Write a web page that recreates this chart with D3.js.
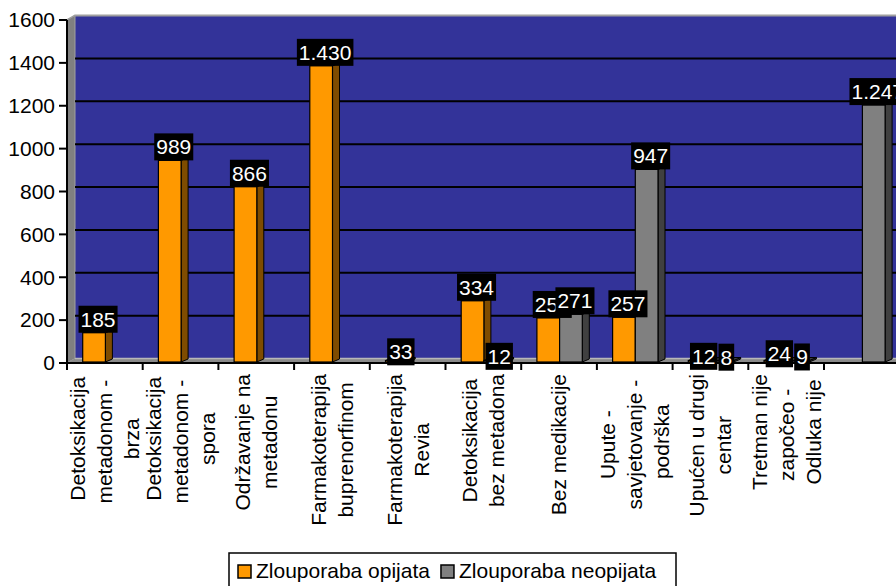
<!DOCTYPE html>
<html>
<head>
<meta charset="utf-8">
<script src="https://cdn.jsdelivr.net/npm/d3@7"></script>
<style>
  html, body { margin: 0; padding: 0; background: #fff; }
  svg { display: block; font-family: "Liberation Sans", Arial, sans-serif; }
</style>
</head>
<body>
<svg id="chart" width="896" height="586"></svg>
<script>
const categories = [
  "Detoksikacija metadonom - brza",
  "Detoksikacija metadonom - spora",
  "Održavanje na metadonu",
  "Farmakoterapija buprenorfinom",
  "Farmakoterapija Revia",
  "Detoksikacija bez metadona",
  "Bez medikacije",
  "Upute - savjetovanje - podrška",
  "Upućen u drugi centar",
  "Tretman nije započeo - Odluka nije",
  ""
];
const labelLines = [
  ["Detoksikacija", "metadonom - ", "brza"],
  ["Detoksikacija", "metadonom - ", "spora"],
  ["Održavanje na", "metadonu"],
  ["Farmakoterapija", "buprenorfinom"],
  ["Farmakoterapija", "Revia"],
  ["Detoksikacija", "bez metadona"],
  ["Bez medikacije"],
  ["Upute - ", "savjetovanje - ", "podrška"],
  ["Upućen u drugi", "centar"],
  ["Tretman nije", "započeo - ", "Odluka nije"],
  []
];
const seriesNames = ["Zlouporaba opijata", "Zlouporaba neopijata"];
const opijata   = [185, 989, 866, 1430, 33, 334, 254, 257, 12, 24, null];
const neopijata = [null, null, null, null, null, 12, 271, 947, 8, 9, 1247];
const yTicks = [0, 200, 400, 600, 800, 1000, 1200, 1400, 1600];

const colors = {
  opijata: { front: "#FF9900", side: "#7F4C00" },
  neopijata: { front: "#808080", side: "#404040" }
};

const svg = d3.select("#chart");
const W = 896, H = 586;
svg.append("rect").attr("width", W).attr("height", H).attr("fill", "#fff");

const fmt = d3.formatLocale({ decimal: ",", thousands: ".", grouping: [3], currency: ["", ""] }).format(",");

const axisX = 67, baseY = 363, topY = 20;
const depthX = 8, depthY = 4.5;
const y = d3.scaleLinear().domain([0, 1600]).range([baseY, topY]);
const yBar = d3.scaleLinear().domain([0, 1600]).range([baseY + 9.4, topY + 9.4]);
const x = d3.scaleBand().domain(d3.range(categories.length)).range([axisX, axisX + 75.7 * categories.length]);
const xs = d3.scaleBand().domain(["opijata", "neopijata"]).range([15.7, 15.7 + 45.4]);

// back wall
svg.append("rect")
  .attr("x", axisX + depthX).attr("y", topY - depthY)
  .attr("width", W - axisX - depthX).attr("height", baseY - topY)
  .attr("fill", "#333399");
// top edge
svg.append("path")
  .attr("d", `M${axisX},${topY} L${axisX + depthX},${topY - depthY} L${W},${topY - depthY}`)
  .attr("fill", "none").attr("stroke", "#a0a0a0").attr("stroke-width", 2);
// left wall
svg.append("path")
  .attr("d", `M${axisX},${baseY} L${axisX + depthX},${baseY - depthY} L${axisX + depthX},${topY - depthY} L${axisX},${topY} Z`)
  .attr("fill", "#808080").attr("stroke", "#a0a0a0").attr("stroke-width", 1);

// gridlines on back wall
svg.append("g").selectAll("line")
  .data(yTicks.filter(v => v > 0 && v < 1600))
  .join("line")
  .attr("x1", axisX + depthX).attr("x2", W)
  .attr("y1", d => y(d) - depthY).attr("y2", d => y(d) - depthY)
  .attr("stroke", "#000").attr("stroke-width", 2);

// floor
svg.append("path")
  .attr("d", `M${axisX},${baseY} L${axisX + depthX},${baseY - depthY} L${W},${baseY - depthY} L${W},${baseY} Z`)
  .attr("fill", "#8a8a8a");
svg.append("line")
  .attr("x1", axisX + depthX).attr("x2", W)
  .attr("y1", baseY - depthY).attr("y2", baseY - depthY)
  .attr("stroke", "#b8b8b8").attr("stroke-width", 1.5);

// bars
const bw = xs.bandwidth();
const bdx = 7, bdy = 3;
const barBottom = baseY - 1;
function drawBar(g, x0, v, c) {
  const top = Math.min(yBar(v), barBottom - 1.5);
  g.append("path")
    .attr("d", `M${x0 + bw},${top} L${x0 + bw + bdx},${top - bdy} L${x0 + bw + bdx},${barBottom - bdy} L${x0 + bw},${barBottom} Z`)
    .attr("fill", c.side).attr("stroke", "#000").attr("stroke-width", 1);
  g.append("path")
    .attr("d", `M${x0},${top} L${x0 + bdx},${top - bdy} L${x0 + bw + bdx},${top - bdy} L${x0 + bw},${top} Z`)
    .attr("fill", c.side).attr("stroke", "#000").attr("stroke-width", 1);
  g.append("rect")
    .attr("x", x0).attr("y", top).attr("width", bw).attr("height", barBottom - top)
    .attr("fill", c.front).attr("stroke", "#000").attr("stroke-width", 1.2);
}
const barsG = svg.append("g");
categories.forEach((cat, i) => {
  if (opijata[i] != null) drawBar(barsG, x(i) + xs("opijata"), opijata[i], colors.opijata);
  if (neopijata[i] != null) drawBar(barsG, x(i) + xs("neopijata"), neopijata[i], colors.neopijata);
});

// axes
svg.append("line").attr("x1", axisX).attr("x2", W).attr("y1", baseY).attr("y2", baseY)
  .attr("stroke", "#000").attr("stroke-width", 2);
svg.append("line").attr("x1", axisX).attr("x2", axisX).attr("y1", topY).attr("y2", baseY)
  .attr("stroke", "#000").attr("stroke-width", 2);
const yt = svg.append("g");
yTicks.forEach(v => {
  yt.append("line").attr("x1", axisX - 8).attr("x2", axisX).attr("y1", y(v)).attr("y2", y(v))
    .attr("stroke", "#000").attr("stroke-width", 2);
  yt.append("text").attr("x", axisX - 12).attr("y", y(v)).attr("dy", "0.35em")
    .attr("text-anchor", "end").attr("font-size", 21).attr("fill", "#000").text(v);
});
const xt = svg.append("g");
d3.range(categories.length + 1).forEach(i => {
  const xx = i < categories.length ? x(i) : x(categories.length - 1) + x.bandwidth();
  xt.append("line").attr("x1", xx).attr("x2", xx).attr("y1", baseY).attr("y2", baseY + 7)
    .attr("stroke", "#000").attr("stroke-width", 2);
});

// category labels (rotated)
const labTop = 374, lineGap = 27;
categories.forEach((cat, i) => {
  const lines = labelLines[i];
  if (!lines.length) return;
  const cx = x(i) + x.bandwidth() / 2;
  const g = svg.append("g");
  const texts = lines.map(l => g.append("text").attr("font-size", 21).attr("fill", "#000")
    .style("white-space", "pre").attr("text-anchor", "middle").attr("dy", "0.35em").text(l));
  const maxW = d3.max(texts, t => t.node().getComputedTextLength());
  const cy = labTop + maxW / 2;
  texts.forEach((t, k) => {
    const lx = cx + (k - (lines.length - 1) / 2) * lineGap;
    t.attr("transform", `translate(${lx},${cy}) rotate(-90)`);
  });
});

// data labels
const labG = svg.append("g");
function drawLabel(x0, v) {
  const cx = x0 + bw / 2 + 4;
  const bottom = yBar(v);
  const t = labG.append("text").attr("font-size", 21).attr("fill", "#fff")
    .attr("text-anchor", "middle").attr("x", cx).attr("y", bottom - 6).text(fmt(v));
  const tw = t.node().getComputedTextLength();
  labG.insert("rect", () => t.node())
    .attr("x", cx - tw / 2 - 2).attr("y", bottom - 27).attr("width", tw + 4).attr("height", 27)
    .attr("fill", "#000");
}
categories.forEach((cat, i) => { if (opijata[i] != null) drawLabel(x(i) + xs("opijata"), opijata[i]); });
categories.forEach((cat, i) => { if (neopijata[i] != null) drawLabel(x(i) + xs("neopijata"), neopijata[i]); });

// legend
const lg = svg.append("g");
lg.append("rect").attr("x", 229).attr("y", 553).attr("width", 447).attr("height", 40)
  .attr("fill", "#fff").attr("stroke", "#000").attr("stroke-width", 1.5);
let lx = 238;
seriesNames.forEach((name, k) => {
  const color = k === 0 ? colors.opijata.front : colors.neopijata.front;
  lg.append("rect").attr("x", lx).attr("y", 565).attr("width", 13).attr("height", 13)
    .attr("fill", color).attr("stroke", "#000").attr("stroke-width", 1.5);
  const t = lg.append("text").attr("x", lx + 18).attr("y", 578).attr("font-size", 21).attr("fill", "#000").text(name);
  lx += 18 + t.node().getComputedTextLength() + 11;
});
</script>
</body>
</html>
